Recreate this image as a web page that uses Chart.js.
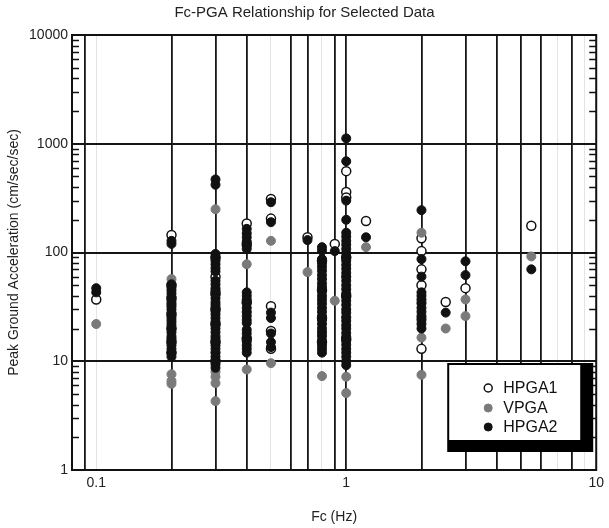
<!DOCTYPE html>
<html>
<head>
<meta charset="utf-8">
<title>Fc-PGA Relationship for Selected Data</title>
<script src="https://cdn.jsdelivr.net/npm/chart.js@4.4.1/dist/chart.umd.min.js"></script>
<style>
  html, body { margin: 0; padding: 0; background: #fff; }
  #wrap { width: 609px; height: 528px; }
</style>
</head>
<body>
<div id="wrap"><canvas id="pgaChart" width="609" height="528"></canvas></div>
<script>
'use strict';

// Fc (Hz) of each data column
var fcValues = [0.1, 0.2, 0.3, 0.4, 0.5, 0.7, 0.8, 0.9, 1.0, 1.2, 2.0, 2.5, 3.0, 5.5];

// PGA (cm/sec/sec), one list per Fc column
var hpga1Values = [
  [37],
  [145, 50, 38, 27, 20, 15, 12],
  [90, 60, 42, 30, 22, 15, 10],
  [185, 120, 35, 16],
  [310, 205, 32, 19, 13],
  [138],
  [84, 45, 25, 15],
  [120],
  [560, 360, 320, 90, 40, 16],
  [195],
  [135, 103, 70, 50, 13],
  [35],
  [47],
  [176]
];

var vpgaValues = [
  [22],
  [57, 33, 16, 7.6, 6.6, 6.2],
  [250, 45, 12, 8, 7.2, 6.3, 4.3],
  [78, 28, 8.4],
  [128, 9.6],
  [66],
  [18, 7.3],
  [36],
  [60, 25, 7.2, 5.1],
  [112],
  [152, 35, 25, 16.5, 7.5],
  [20],
  [37, 26],
  [92]
];

var hpga2Values = [
  [47, 43],
  [128, 120, 51, 48, 45, 42, 39, 36, 34, 32, 30, 28, 26, 24.5, 23, 21.5, 20, 18.5, 17, 16, 15, 14, 13, 12, 11],
  [470, 420, 97, 90, 84, 78, 72, 67, 55, 51, 47, 44, 41, 38, 35, 33, 31, 29, 27, 25, 23, 21.5, 20, 18.5, 17, 16, 15, 14, 13, 12, 11, 10.2, 9.4, 8.7],
  [165, 150, 138, 126, 115, 108, 43, 40, 37, 34, 31, 28.5, 26, 24, 22.5, 19.5, 18, 16.5, 15.2, 14, 13, 12],
  [290, 190, 28, 25, 18, 15, 13.5],
  [130],
  [112, 104, 87, 80, 74, 68, 62, 57, 52, 48, 44, 40, 37, 34, 31, 28.5, 26, 24, 22, 20, 18.5, 17, 15.5, 14, 13, 12],
  [103],
  [1120, 690, 300, 200, 152, 140, 128, 118, 108, 99, 91, 84, 77, 71, 65, 60, 55, 50, 46, 42, 39, 36, 33, 30, 28, 25.5, 23.5, 21.5, 20, 18.2, 16.8, 15.4, 14.2, 13, 12, 11, 10, 9.2],
  [138],
  [245, 87, 60, 43, 40, 37, 34, 31, 28.5, 26, 24, 22, 20],
  [28],
  [83, 62],
  [70]
];

// Axis ticks
var xTickValues = [0.08, 0.09, 0.1, 0.2, 0.3, 0.4, 0.5, 0.6, 0.7, 0.8, 0.9, 1, 2, 3, 4, 5, 6, 7, 8, 9, 10];
var xTickLabels = [0.1, 1, 10];
var yTickValues = [1, 2, 3, 4, 5, 6, 7, 8, 9, 10, 20, 30, 40, 50, 60, 70, 80, 90,
  100, 200, 300, 400, 500, 600, 700, 800, 900, 1000, 2000, 3000, 4000, 5000, 6000, 7000, 8000, 9000, 10000];
var yTickLabels = [1, 10, 100, 1000, 10000];

// Which vertical grid lines came out dark in the original and which faint
var xDarkLines = [0.09, 0.2, 0.3, 0.4, 0.6, 0.7, 0.9, 1, 2, 3, 4, 5, 6, 8];
var xFaintLines = [0.1, 0.5, 0.8, 7, 9];
var yDarkLines = [10, 100, 1000];

var fontFamily = '"Liberation Sans", Arial, Helvetica, sans-serif';
Chart.defaults.font.family = fontFamily;

// Turn a list of columns into scatter points
function buildPoints(values) {
  var points = [];
  for (var i = 0; i < fcValues.length; i++) {
    for (var j = 0; j < values[i].length; j++) {
      points.push({ x: fcValues[i], y: values[i][j] });
    }
  }
  return points;
}

function toTicks(list) {
  return list.map(function (v) { return { value: v }; });
}

// Frame round the plot plus the small inward ticks on both y sides
var frameTicks = {
  id: 'frameTicks',
  beforeDatasetsDraw: function (chart) {
    var ctx = chart.ctx;
    var area = chart.chartArea;
    var yScale = chart.scales.y;
    ctx.save();
    ctx.strokeStyle = '#111';
    ctx.lineWidth = 1.5;
    ctx.beginPath();
    yTickValues.forEach(function (v) {
      if (yTickLabels.indexOf(v) >= 0) return;
      var py = Math.round(yScale.getPixelForValue(v)) + 0.5;
      ctx.moveTo(area.left, py);
      ctx.lineTo(area.left + 7, py);
      ctx.moveTo(area.right - 7, py);
      ctx.lineTo(area.right, py);
    });
    ctx.stroke();
    ctx.lineWidth = 2;
    ctx.strokeRect(area.left, area.top, area.right - area.left, area.bottom - area.top);
    ctx.restore();
  }
};

// Boxed legend with a heavy shadow, lower right of the plot
var legendBox = {
  id: 'legendBox',
  afterDraw: function (chart) {
    var ctx = chart.ctx;
    var area = chart.chartArea;
    var w = 146, h = 89;
    var left = area.right - 3 - w;
    var top = area.bottom - 18 - h;
    ctx.save();
    ctx.fillStyle = '#000';
    ctx.fillRect(left, top, w, h);
    ctx.fillStyle = '#fff';
    ctx.fillRect(left + 2, top + 2, w - 15, h - 14);

    var rows = [25, 45, 64];
    ctx.font = '16px ' + fontFamily;
    ctx.textBaseline = 'middle';
    chart.data.datasets.forEach(function (ds, i) {
      var cy = top + rows[i];
      ctx.beginPath();
      ctx.arc(left + 41, cy, 4, 0, Math.PI * 2);
      ctx.fillStyle = ds.backgroundColor;
      ctx.fill();
      ctx.lineWidth = ds.borderWidth;
      ctx.strokeStyle = ds.borderColor;
      ctx.stroke();
      ctx.fillStyle = '#111';
      ctx.fillText(ds.label, left + 56, cy + 1);
    });
    ctx.restore();
  }
};

var ctx = document.getElementById('pgaChart').getContext('2d');
var pgaChart = new Chart(ctx, {
  type: 'scatter',
  data: {
    datasets: [{
      label: 'HPGA1',
      data: buildPoints(hpga1Values),
      backgroundColor: '#ffffff',
      borderColor: '#111111',
      borderWidth: 1.5,
      pointRadius: 4.5,
      order: 2
    }, {
      label: 'VPGA',
      data: buildPoints(vpgaValues),
      backgroundColor: '#7a7a7a',
      borderColor: '#7a7a7a',
      borderWidth: 1,
      pointRadius: 4.5,
      order: 1
    }, {
      label: 'HPGA2',
      data: buildPoints(hpga2Values),
      backgroundColor: '#111111',
      borderColor: '#111111',
      borderWidth: 1,
      pointRadius: 4.5,
      order: 0
    }]
  },
  options: {
    responsive: false,
    animation: false,
    events: [],
    layout: { padding: { left: 0, right: 0, top: 0, bottom: 0 } },
    plugins: {
      legend: { display: false },
      tooltip: { enabled: false },
      title: {
        display: true,
        text: 'Fc-PGA Relationship for Selected Data',
        color: '#222',
        font: { size: 15, weight: 'normal' },
        padding: { top: 4, bottom: 13 }
      }
    },
    scales: {
      x: {
        type: 'logarithmic',
        min: 0.08,
        max: 10,
        afterBuildTicks: function (scale) { scale.ticks = toTicks(xTickValues); },
        afterFit: function (scale) { scale.height = 58; },
        ticks: {
          autoSkip: false,
          maxRotation: 0,
          padding: 5,
          color: '#222',
          font: { size: 14 },
          callback: function (value) {
            return xTickLabels.indexOf(value) >= 0 ? String(value) : '';
          }
        },
        grid: {
          drawTicks: false,
          color: function (c) {
            var v = c.tick && c.tick.value;
            if (xDarkLines.indexOf(v) >= 0) return '#151515';
            if (xFaintLines.indexOf(v) >= 0) return '#e4e4e4';
            return 'rgba(0,0,0,0)';
          },
          lineWidth: function (c) {
            var v = c.tick && c.tick.value;
            return xDarkLines.indexOf(v) >= 0 ? 1.8 : 1;
          }
        },
        border: { display: false },
        title: {
          display: true,
          text: 'Fc (Hz)',
          color: '#222',
          font: { size: 14 },
          padding: { top: 0, bottom: 2 }
        }
      },
      y: {
        type: 'logarithmic',
        min: 1,
        max: 10000,
        afterBuildTicks: function (scale) { scale.ticks = toTicks(yTickValues); },
        afterFit: function (scale) { scale.width = 72; },
        ticks: {
          autoSkip: false,
          padding: 4,
          color: '#222',
          font: { size: 14 },
          callback: function (value) {
            return yTickLabels.indexOf(value) >= 0 ? String(value) : '';
          }
        },
        grid: {
          drawTicks: false,
          color: function (c) {
            var v = c.tick && c.tick.value;
            return yDarkLines.indexOf(v) >= 0 ? '#151515' : 'rgba(0,0,0,0)';
          },
          lineWidth: 2
        },
        border: { display: false },
        title: {
          display: true,
          text: 'Peak Ground Acceleration (cm/sec/sec)',
          color: '#222',
          font: { size: 14 },
          padding: { top: 6, bottom: 0 }
        }
      }
    }
  },
  plugins: [frameTicks, legendBox]
});
</script>
</body>
</html>
